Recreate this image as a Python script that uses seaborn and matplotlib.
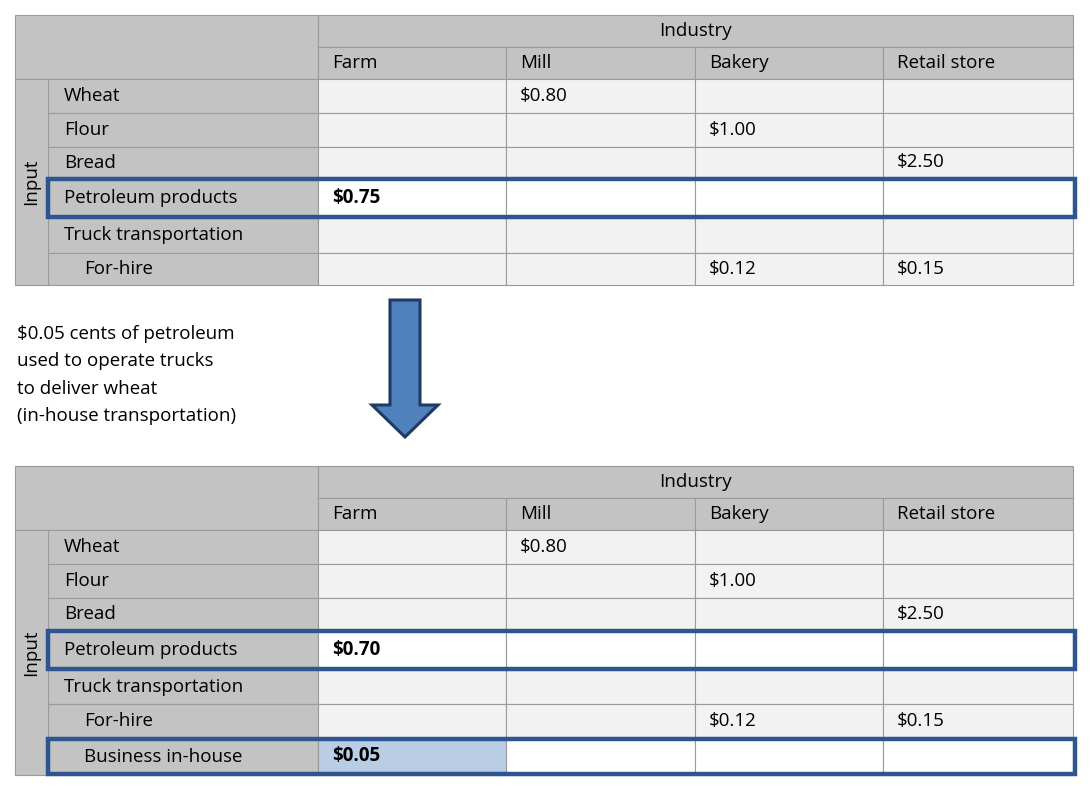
import matplotlib
matplotlib.use("Agg")
import matplotlib.pyplot as plt
from matplotlib.patches import Rectangle, Polygon
import seaborn as sns

columns = ["Farm", "Mill", "Bakery", "Retail store"]
rows_top = ["Wheat", "Flour", "Bread", "Petroleum products", "Truck transportation", "For-hire"]
rows_bottom = rows_top + ["Business in-house"]
indented = {"For-hire", "Business in-house"}
values_top = {("Wheat", "Mill"): "$0.80", ("Flour", "Bakery"): "$1.00", ("Bread", "Retail store"): "$2.50",
              ("Petroleum products", "Farm"): "$0.75", ("For-hire", "Bakery"): "$0.12",
              ("For-hire", "Retail store"): "$0.15"}
values_bottom = {("Wheat", "Mill"): "$0.80", ("Flour", "Bakery"): "$1.00", ("Bread", "Retail store"): "$2.50",
                 ("Petroleum products", "Farm"): "$0.70", ("For-hire", "Bakery"): "$0.12",
                 ("For-hire", "Retail store"): "$0.15", ("Business in-house", "Farm"): "$0.05"}
highlight_rows = ["Petroleum products", "Business in-house"]
note = "$0.05 cents of petroleum\nused to operate trucks\nto deliver wheat\n(in-house transportation)"

sns.set_theme(style="white")
FONT = "Open Sans"
GRAY = "#c3c3c3"
LIGHT = "#f2f2f2"
LINE = "#9a9a9a"
BLUE = "#2e5591"
FS = 13.5
TC = "black"

fig = plt.figure(figsize=(10.9, 7.95), dpi=100)
ax = fig.add_axes([0, 0, 1, 1])
ax.set_xlim(0, 1090); ax.set_ylim(795, 0); ax.axis("off")

col_x = [318, 506, 695, 883, 1073]
L0, L1 = 15, 48

def rect(x0, y0, x1, y1, fc, ec=LINE, lw=0.8, z=1):
    ax.add_patch(Rectangle((x0, y0), x1 - x0, y1 - y0, facecolor=fc, edgecolor=ec, lw=lw, zorder=z))

def txt(x, y, s, **kw):
    kw.setdefault("ha", "left")
    ax.text(x, y, s, va="center", fontsize=FS, family=FONT, color=TC, **kw)

def table(top, rows, heights, values):
    rect(L0, top, col_x[0], top + 64, GRAY)
    rect(col_x[0], top, col_x[-1], top + 32, GRAY)
    txt((col_x[0] + col_x[-1]) / 2, top + 16, "Industry", ha="center")
    for i, c in enumerate(columns):
        rect(col_x[i], top + 32, col_x[i + 1], top + 64, GRAY)
        txt(col_x[i] + 14, top + 48, c)
    y = top + 64
    ystart = y
    for r, h in zip(rows, heights):
        hl = r in highlight_rows
        rect(L1, y, col_x[0], y + h, GRAY)
        txt(84 if r in indented else 64, y + h / 2, r)
        for i, c in enumerate(columns):
            fc = "white" if hl else LIGHT
            if r == "Business in-house" and c == "Farm":
                fc = "#b9cde5"
            rect(col_x[i], y, col_x[i + 1], y + h, fc)
            v = values.get((r, c))
            if v:
                txt(col_x[i] + 14, y + h / 2, v, fontweight="bold" if hl else "normal")
        if hl:
            ax.add_patch(Rectangle((L1, y + 1), 1075 - L1, h - 2, facecolor="none", edgecolor=BLUE, lw=3.2, zorder=5))
        y += h
    rect(L0, ystart, L1, y, GRAY)
    txt((L0 + L1) / 2, (ystart + y) / 2, "Input", rotation=90, ha="center")

table(15, rows_top, [34, 34, 31, 40, 35, 32], values_top)
table(466, rows_bottom, [34, 34, 32, 40, 34, 34, 37], values_bottom)

ax.text(17, 375, note, ha="left", va="center", fontsize=FS, family=FONT, color=TC, linespacing=1.65)
ax.add_patch(Polygon([(390, 300), (420, 300), (420, 405), (438, 405), (405, 437), (372, 405), (390, 405)],
                     closed=True, facecolor="#4f81bd", edgecolor="#1f3b63", lw=2.2, zorder=3))

fig.savefig("out.png", dpi=100)
